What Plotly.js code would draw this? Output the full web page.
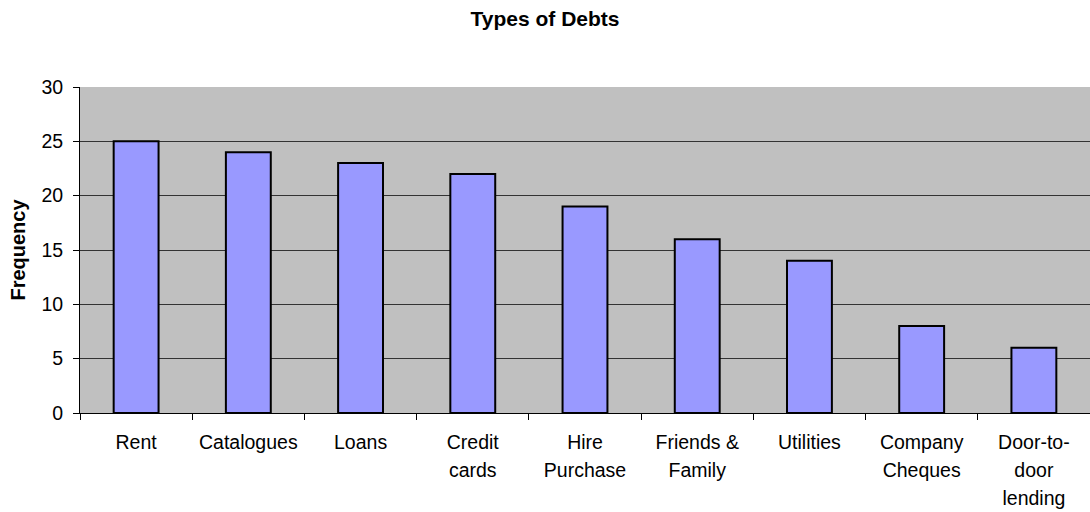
<!DOCTYPE html>
<html><head><meta charset="utf-8">
<script src="https://cdn.plot.ly/plotly-3.0.1.min.js"></script>
<style>html,body{margin:0;padding:0;background:#fff}#c{width:1090px;height:512px}</style>
</head><body><div id="c"></div>
<script>
var categories = ["Rent","Catalogues","Loans","Credit cards","Hire Purchase","Friends & Family","Utilities","Company Cheques","Door-to-door lending"];
var categoryLines = [["Rent"],["Catalogues"],["Loans"],["Credit","cards"],["Hire","Purchase"],["Friends &","Family"],["Utilities"],["Company","Cheques"],["Door-to-","door","lending"]];
var frequency = [25,24,23,22,19,16,14,8,6];
var yTicks = [0,5,10,15,20,25,30];

var tickText = categoryLines.map(function(lines){
  return lines.map(function(l){ return '<span style="font-size:19.5px">' + l.replace('&','&amp;') + '</span>'; }).join('<br>');
});

var trace = {
  type:'bar', x:categories, y:frequency,
  marker:{color:'#9999FF', line:{color:'#000', width:2}},
  width:0.4, hoverinfo:'none'
};
var layout = {
  width:1090, height:512,
  margin:{l:80, r:0, t:87, b:99},
  paper_bgcolor:'#fff', plot_bgcolor:'#C0C0C0',
  font:{family:'Liberation Sans, Arial, sans-serif', size:19.5, color:'#000'},
  title:{text:'<b>Types of Debts</b>', x:0.5, xanchor:'center', y:0.963, yanchor:'middle', font:{size:21}},
  showlegend:false,
  bargap:0.6,
  xaxis:{
    type:'category', showline:true, linecolor:'#000', linewidth:1,
    ticks:'outside', tickson:'boundaries', ticklen:6, tickcolor:'#000',
    showgrid:false, fixedrange:true, ticklabelstandoff:10,
    tickmode:'array', tickvals:categories, ticktext:tickText,
    tickfont:{size:21.2},
    range:[-0.5, 8.5]
  },
  yaxis:{
    range:[0,30], tickvals:yTicks, showline:true, linecolor:'#000', linewidth:1,
    ticks:'outside', ticklen:6, tickcolor:'#000',
    showgrid:true, gridcolor:'#333', gridwidth:1, zeroline:false,
    title:{text:'<b>Frequency</b>', font:{size:20}, standoff:10},
    ticklabelstandoff:6
  }
};
Plotly.newPlot('c',[trace],layout,{displayModeBar:false, staticPlot:true});
</script></body></html>
